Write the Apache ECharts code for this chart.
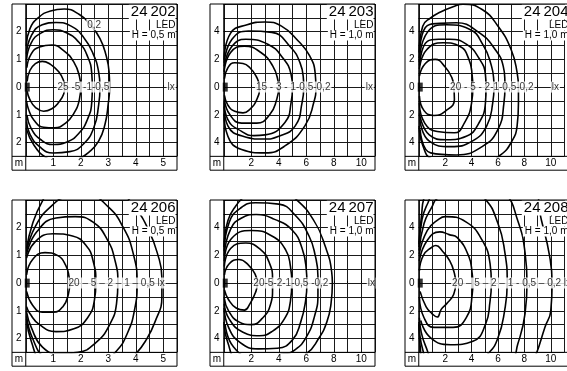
<!DOCTYPE html>
<html lang="de">
<head>
<meta charset="UTF-8">
<title>Isolux</title>
<script src="https://cdn.jsdelivr.net/npm/echarts@6/dist/echarts.min.js"></script>
<style>
  html, body { margin: 0; padding: 0; background: #fff; }
  #chart { width: 567px; height: 371px; }
</style>
</head>
<body>
<div id="chart"></div>
<script>
// Leuchten
var types = ['24\u2009202', '24\u2009203', '24\u2009204', '24\u2009206', '24\u2009207', '24\u2009208'];
var heights = ['H = 0,5 m', 'H = 1,0 m', 'H = 1,0 m', 'H = 0,5 m', 'H = 1,0 m', 'H = 1,0 m'];
var xMax = [5.5, 11, 11, 5.5, 11, 11];

// Beschriftung auf der Achse (lx-Werte)
var lxText = ['25 -5 -1-0,5', '15 - 3 - 1-0,5-0,2', '20 - 5 - 2-1-0,5-0,2',
              '20 \u2013 5 \u2013 2 \u2013 1 \u2013 0,5 lx', '20-5-2-1-0,5 -0,2',
              '20 \u2013 5 \u2013 2 \u2013 1 - 0,5 \u2013 0,2 lx'];
var lxStart = [1.12, 2.27, 2.3, 1.52, 2.08, 2.45];
var lxUnitX = [5.12, 10.25, 10.0, null, 10.4, null];
var extraText = ['0,2', '', '', '', '', ''];
var extraPos = [[2.2, 2.25], null, null, null, null, null];

// Isolinien [x m, y m], je Leuchte von innen nach aussen
var iso24202 = [
  [[0.05,0.2],[0.15,0.6],[0.35,0.85],[0.6,0.93],[0.9,0.82],[1.2,0.55],[1.38,0.22],[1.42,0],[1.38,-0.25],[1.2,-0.55],[0.95,-0.78],[0.65,-0.87],[0.35,-0.73],[0.15,-0.45],[0.05,-0.15]],
  [[0.04,0.7],[0.2,1.2],[0.5,1.45],[0.95,1.52],[1.4,1.3],[1.75,0.9],[1.95,0.4],[2.0,0],[1.95,-0.45],[1.75,-0.95],[1.45,-1.3],[1.05,-1.47],[0.65,-1.45],[0.3,-1.2],[0.1,-0.8],[0.03,-0.5]],
  [[0.03,1.0],[0.2,1.6],[0.55,1.95],[1.0,2.07],[1.5,1.95],[1.95,1.6],[2.25,1.1],[2.4,0.5],[2.42,0],[2.4,-0.55],[2.25,-1.15],[1.95,-1.65],[1.5,-1.98],[1.0,-2.07],[0.55,-1.9],[0.2,-1.5],[0.04,-1.0]],
  [[0.03,1.2],[0.2,1.85],[0.6,2.25],[1.1,2.33],[1.65,2.2],[2.1,1.8],[2.45,1.2],[2.65,0.55],[2.7,0],[2.65,-0.65],[2.48,-1.45],[2.1,-2.05],[1.6,-2.33],[1.0,-2.38],[0.5,-2.15],[0.15,-1.7],[0.03,-1.25]],
  [[0.02,1.5],[0.15,2.1],[0.45,2.5],[0.9,2.75],[1.4,2.82],[1.95,2.62],[2.35,2.25],[2.7,1.75],[2.92,1.15],[3.03,0.55],[3.05,0],[3.0,-0.6],[2.88,-1.35],[2.65,-1.95],[2.3,-2.35],[1.9,-2.6],[1.3,-2.75],[0.75,-2.55],[0.3,-2.1],[0.02,-1.5]]
];
var iso24203 = [
  [[0.05,0.6],[0.3,1.4],[0.8,1.76],[1.4,1.7],[1.9,1.4],[2.35,0.8],[2.6,0],[2.4,-0.9],[1.9,-1.6],[1.4,-1.86],[0.8,-1.75],[0.3,-1.3],[0.05,-0.6]],
  [[0.03,1.1],[0.5,2.5],[1.5,2.96],[2.7,2.5],[3.55,1.55],[3.95,0.45],[4.0,0],[3.85,-0.9],[3.35,-1.98],[2.4,-2.6],[1.3,-2.6],[0.45,-2.0],[0.05,-0.9]],
  [[0.03,1.5],[0.6,2.95],[1.6,3.45],[3.2,3.1],[4.3,2.1],[4.9,0.9],[5.0,0],[4.9,-1.1],[4.45,-2.55],[3.0,-3.45],[2.2,-3.5],[1.3,-3.2],[0.3,-2.35],[0.03,-1.1]],
  [[0.03,1.75],[0.6,3.45],[1.8,4.05],[3.5,3.95],[4.8,2.95],[5.55,1.75],[5.8,0.5],[5.82,0],[5.7,-1.1],[5.2,-2.8],[4.0,-3.55],[2.9,-3.75],[1.4,-3.55],[0.3,-2.8],[0.03,-1.4]],
  [[0.02,2.0],[0.5,3.9],[1.7,4.5],[3.0,4.7],[4.2,4.4],[5.4,3.35],[6.25,2.25],[6.65,1.0],[6.7,0],[6.55,-1.1],[5.9,-2.8],[4.45,-4.25],[3.0,-4.75],[1.3,-4.5],[0.3,-3.55],[0.02,-1.9]]
];
var iso24204 = [
  [[0.05,0.8],[0.5,1.7],[1.25,2.0],[2.0,1.45],[2.5,0.7],[2.65,0],[2.7,-0.9],[2.0,-1.75],[1.15,-2.05],[0.4,-1.7],[0.05,-0.65]],
  [[0.05,1.3],[0.6,2.7],[1.85,3.2],[3.1,2.95],[3.8,2.0],[4.05,0.8],[4.1,0],[4.0,-1.15],[3.45,-2.6],[2.7,-3.3],[1.4,-3.2],[0.45,-2.6],[0.05,-1.15]],
  [[0.05,1.55],[0.65,3.3],[1.5,3.45],[2.35,3.45],[3.6,3.1],[4.55,2.1],[5.05,0.9],[5.1,0],[5.05,-1.15],[4.55,-2.6],[3.6,-3.55],[2.1,-3.8],[0.8,-3.45],[0.05,-1.9]],
  [[0.04,1.8],[0.65,3.95],[2.1,4.5],[3.8,4.2],[4.9,3.0],[5.5,1.55],[5.68,0.5],[5.7,0],[5.6,-1.15],[5.15,-2.8],[4.05,-3.9],[2.4,-4.3],[0.8,-3.9],[0.08,-2.35]],
  [[0.04,2.1],[0.5,4.3],[1.6,4.6],[2.85,4.65],[4.55,3.95],[5.8,2.7],[6.4,1.5],[6.52,0.5],[6.53,0],[6.45,-1.15],[6.0,-3.05],[4.8,-4.3],[2.85,-4.9],[0.9,-4.75],[0.1,-3.05]],
  [[0.03,2.5],[0.3,4.4],[0.9,5.0],[1.6,5.4],[2.6,5.8],[3.35,5.98],[4.8,5.6],[6.0,4.4],[7.0,2.7],[7.45,1.05],[7.55,0],[7.55,-1.15],[7.45,-2.8],[7.0,-4.0],[6.2,-4.9],[5.2,-5.4],[3.0,-5.6],[1.0,-5.2],[0.3,-4.2],[0.03,-2.8]]
];
var iso24206 = [
  [[0.03,0.3],[0.25,0.85],[0.7,1.1],[1.15,1.0],[1.45,0.65],[1.58,0.2],[1.6,0],[1.55,-0.4],[1.35,-0.85],[1.0,-1.05],[0.6,-1.05],[0.25,-0.8],[0.03,-0.3]],
  [[0.03,0.9],[0.35,1.5],[1.0,1.78],[1.7,1.7],[2.2,1.35],[2.45,0.8],[2.55,0],[2.5,-0.6],[2.25,-1.25],[1.75,-1.65],[1.1,-1.75],[0.5,-1.5],[0.15,-1.1],[0.03,-0.85]],
  [[0.03,1.05],[0.4,1.85],[1.1,2.35],[1.8,2.4],[2.45,2.2],[2.95,1.6],[3.25,0.8],[3.35,0],[3.3,-0.75],[3.05,-1.5],[2.55,-2.15],[1.9,-2.5],[1.2,-2.55],[0.6,-2.3],[0.2,-1.6],[0.03,-1.05]],
  [[0.03,1.15],[0.35,2.05],[0.9,2.75],[1.5,3.1],[2.3,3.15],[3.0,2.75],[3.55,2.0],[3.9,1.1],[4.05,0],[3.95,-1.0],[3.7,-1.8],[3.3,-2.45],[2.7,-2.9],[1.5,-3.0],[0.7,-2.7],[0.25,-2.0],[0.03,-1.2]],
  [[0.03,1.25],[0.25,2.15],[0.6,2.95],[0.9,3.3],[2.5,3.9],[3.5,3.25],[4.0,2.7],[4.45,1.95],[4.78,1.1],[4.95,0.2],[4.95,-0.5],[4.7,-1.4],[4.35,-2.1],[4.0,-2.55],[3.5,-3.0],[1.5,-3.4],[0.6,-2.9],[0.2,-2.1],[0.03,-1.3]]
];
var iso24207 = [
  [[0.05,0.6],[0.4,1.4],[1.1,1.7],[1.8,1.3],[2.3,0.6],[2.45,0],[2.3,-0.7],[1.9,-1.5],[1.5,-1.95],[0.9,-1.8],[0.35,-1.2],[0.05,-0.5]],
  [[0.04,1.2],[0.5,2.5],[1.6,2.9],[2.7,2.4],[3.3,1.5],[3.55,0.3],[3.55,-0.4],[3.4,-1.55],[2.8,-2.55],[2.0,-3.0],[1.1,-2.8],[0.35,-2.0],[0.04,-1.1]],
  [[0.04,1.6],[0.55,3.2],[2.0,3.8],[3.5,3.4],[4.5,2.4],[4.85,1.2],[4.95,0],[4.85,-1.3],[4.4,-2.6],[3.5,-3.5],[2.6,-3.8],[1.4,-3.55],[0.4,-2.6],[0.04,-1.5]],
  [[0.03,2.0],[0.5,3.9],[1.3,4.7],[2.35,4.95],[3.7,4.6],[5.0,3.8],[5.7,2.5],[6.0,1.0],[6.05,0],[5.95,-1.3],[5.6,-2.8],[5.0,-4.1],[3.9,-4.7],[2.5,-4.75],[1.2,-4.3],[0.35,-3.2],[0.03,-1.8]],
  [[0.03,2.3],[0.4,4.4],[1.2,5.4],[2.3,5.8],[4.0,5.7],[5.2,4.9],[6.2,3.4],[6.65,2.0],[6.85,0.5],[6.85,-0.8],[6.6,-2.4],[6.0,-3.9],[5.2,-4.8],[4.4,-5.1],[2.0,-5.3],[0.7,-4.6],[0.1,-3.0]],
  [[0.02,2.6],[0.3,4.5],[0.9,5.6],[1.6,6.3],[3.5,7.3],[5.2,6.1],[6.5,4.6],[7.4,2.6],[7.85,0.8],[7.9,0],[7.8,-1.5],[7.5,-2.8],[6.9,-4.0],[6.0,-5.1],[4.0,-6.0],[1.0,-5.5],[0.3,-4.3],[0.02,-2.8]]
];
var iso24208 = [
  [[0.05,0.9],[0.35,2.0],[1.0,2.6],[1.3,2.72],[1.8,2.3],[2.35,1.6],[2.7,0.7],[2.8,0],[2.65,-0.8],[2.1,-1.5],[1.7,-1.9],[1.4,-2.45],[1.0,-2.2],[0.55,-1.7],[0.1,-0.6]],
  [[0.04,1.6],[0.65,3.1],[1.6,3.7],[2.3,3.5],[2.9,3.3],[3.8,1.9],[4.05,0.65],[4.1,0],[4.05,-0.8],[3.6,-2.5],[2.6,-3.2],[1.15,-3.2],[0.4,-2.5],[0.05,-1.0]],
  [[0.04,2.1],[0.65,3.8],[1.5,4.6],[2.0,4.8],[3.6,4.4],[4.8,3.1],[5.4,1.4],[5.5,0],[5.4,-1.3],[5.05,-3.0],[4.1,-4.2],[2.4,-4.45],[0.9,-3.95],[0.15,-2.7]],
  [[0.03,2.35],[0.4,4.3],[1.0,5.5],[1.4,6.1],[3.5,7.0],[5.0,6.1],[6.0,4.3],[6.5,2.35],[6.7,0],[6.5,-2.0],[6.0,-3.95],[5.3,-5.05],[4.0,-6.0],[1.5,-5.8],[0.5,-4.5],[0.05,-2.5]],
  [[0.02,2.6],[0.25,4.6],[0.7,5.8],[1.2,6.6],[4.0,8.0],[6.5,6.5],[7.5,4.5],[8.05,2.2],[8.2,0],[8.05,-2.2],[7.5,-4.4],[7.0,-5.5],[4.0,-7.0],[1.0,-6.2],[0.3,-4.8],[0.02,-2.8]],
  [[0.02,2.8],[0.2,4.8],[0.5,6.4],[3.0,9.0],[8.5,7.5],[9.3,4.5],[9.9,2.0],[10.1,0],[10.0,-2.0],[9.55,-3.2],[8.9,-5.1],[8.0,-7.0],[2.0,-8.0],[0.4,-6.0],[0.1,-4.5],[0.02,-3.0]]
];
var isoAll = [iso24202, iso24203, iso24204, iso24206, iso24207, iso24208];

// Raster der Teilbilder (px)
var CW = 13.75, CH = 13.85;
var frameLeft = [12, 210, 405, 12, 210, 405];
var frameTop = [4, 4, 4, 200, 200, 200];
var FONT = '"Liberation Sans", Arial, Helvetica, sans-serif';

var chart = echarts.init(document.getElementById('chart'));

var grids = [], xAxes = [], yAxes = [], series = [], graphics = [];

for (var i = 0; i < 6; i++) {
  var big = xMax[i] > 6;
  var step = big ? 1 : 0.5;
  var yMin = big ? -5 : -2.5;
  var yMax = big ? 6 : 3;
  var lab = big ? 2 : 1;
  var fl = frameLeft[i], ft = frameTop[i];
  var fw = 12 * CW, fh = 12 * CH;

  grids.push({ left: fl + CW, top: ft, width: 11 * CW, height: 11 * CH });

  (function (xm, lab) {
    xAxes.push({
      gridIndex: i, type: 'value', min: 0, max: xm, interval: step,
      position: 'bottom', offset: CH,
      axisLine: { show: false },
      axisTick: { show: true, inside: true, length: 2, lineStyle: { color: '#000', width: 1 } },
      axisLabel: {
        inside: true, margin: 2, fontSize: 10, color: '#000', fontFamily: FONT,
        formatter: function (v) {
          var r = Math.round(v);
          return (Math.abs(v - r) < 1e-6 && r > 0 && r < xm && r % lab === 0) ? String(r) : '';
        }
      },
      splitLine: { show: true, lineStyle: { color: '#1a1a1a', width: 1 } }
    });
    yAxes.push({
      gridIndex: i, type: 'value', min: yMin, max: yMax, interval: step,
      position: 'left', offset: CW,
      axisLine: { show: false },
      axisTick: { show: true, inside: true, length: 2, lineStyle: { color: '#000', width: 1 } },
      axisLabel: {
        inside: true, margin: 4, fontSize: 10, color: '#000', fontFamily: FONT,
        formatter: function (v) {
          var r = Math.round(v);
          return (Math.abs(v - r) < 1e-6 && Math.abs(r) <= 2 * lab && r % lab === 0) ? String(Math.abs(r)) : '';
        }
      },
      splitLine: { show: true, lineStyle: { color: '#1a1a1a', width: 1 } }
    });
  })(xMax[i], lab);

  // Isolinien
  isoAll[i].forEach(function (c) {
    series.push({
      type: 'line', xAxisIndex: i, yAxisIndex: i, data: c,
      showSymbol: false, smooth: 0.5, clip: true, silent: true, z: 3,
      lineStyle: { color: '#000', width: 1.6 }
    });
  });

  // Texte im Diagramm
  var labels = [{ name: lxText[i], value: [lxStart[i], 0] }];
  if (lxUnitX[i] != null) labels.push({ name: 'lx', value: [lxUnitX[i], 0] });
  if (extraPos[i]) labels.push({ name: extraText[i], value: extraPos[i] });
  series.push({
    type: 'scatter', xAxisIndex: i, yAxisIndex: i, data: labels,
    symbolSize: 0, silent: true, z: 5,
    label: {
      show: true, position: 'right', distance: 0, formatter: '{b}',
      fontSize: 10, color: '#000', fontFamily: FONT,
      backgroundColor: '#fff', padding: [1, 1, 0, 1]
    }
  });

  // Leuchte
  series.push({
    type: 'scatter', xAxisIndex: i, yAxisIndex: i, data: [[0, 0]],
    symbol: 'rect', symbolSize: [5, 9], symbolOffset: [1.5, 0],
    itemStyle: { color: '#000' }, silent: true, z: 6
  });

  // Rahmen
  graphics.push({ type: 'rect', z: 110, shape: { x: fl, y: ft, width: fw, height: fh },
    style: { fill: null, stroke: '#000', lineWidth: 1 } });
  graphics.push({ type: 'line', z: 110, shape: { x1: fl + CW, y1: ft, x2: fl + CW, y2: ft + fh },
    style: { stroke: '#000', lineWidth: 1 } });
  graphics.push({ type: 'line', z: 110, shape: { x1: fl, y1: ft + 11 * CH, x2: fl + fw, y2: ft + 11 * CH },
    style: { stroke: '#000', lineWidth: 1 } });
  graphics.push({ type: 'text', z: 110, x: fl + CW / 2, y: ft + 11.5 * CH,
    style: { text: 'm', font: '10px ' + FONT, fill: '#000', align: 'center', verticalAlign: 'middle',
      textAlign: 'center', textVerticalAlign: 'middle' } });

  // Typenfeld
  var tx = fl + fw - 1.5;
  [[types[i], 15, 0.5], ['LED', 10, 16.5], [heights[i], 10, 26.5]].forEach(function (t) {
    graphics.push({ type: 'text', z: 100, x: tx, y: ft + t[2],
      style: { text: t[0], font: t[1] + 'px ' + FONT, fill: '#000', align: 'right', verticalAlign: 'top',
        textAlign: 'right', textVerticalAlign: 'top', backgroundColor: '#fff', padding: [0, 0, 0, 2] } });
  });
}

chart.setOption({
  animation: false,
  backgroundColor: '#fff',
  grid: grids,
  xAxis: xAxes,
  yAxis: yAxes,
  series: series,
  graphic: graphics
});
</script>
</body>
</html>
